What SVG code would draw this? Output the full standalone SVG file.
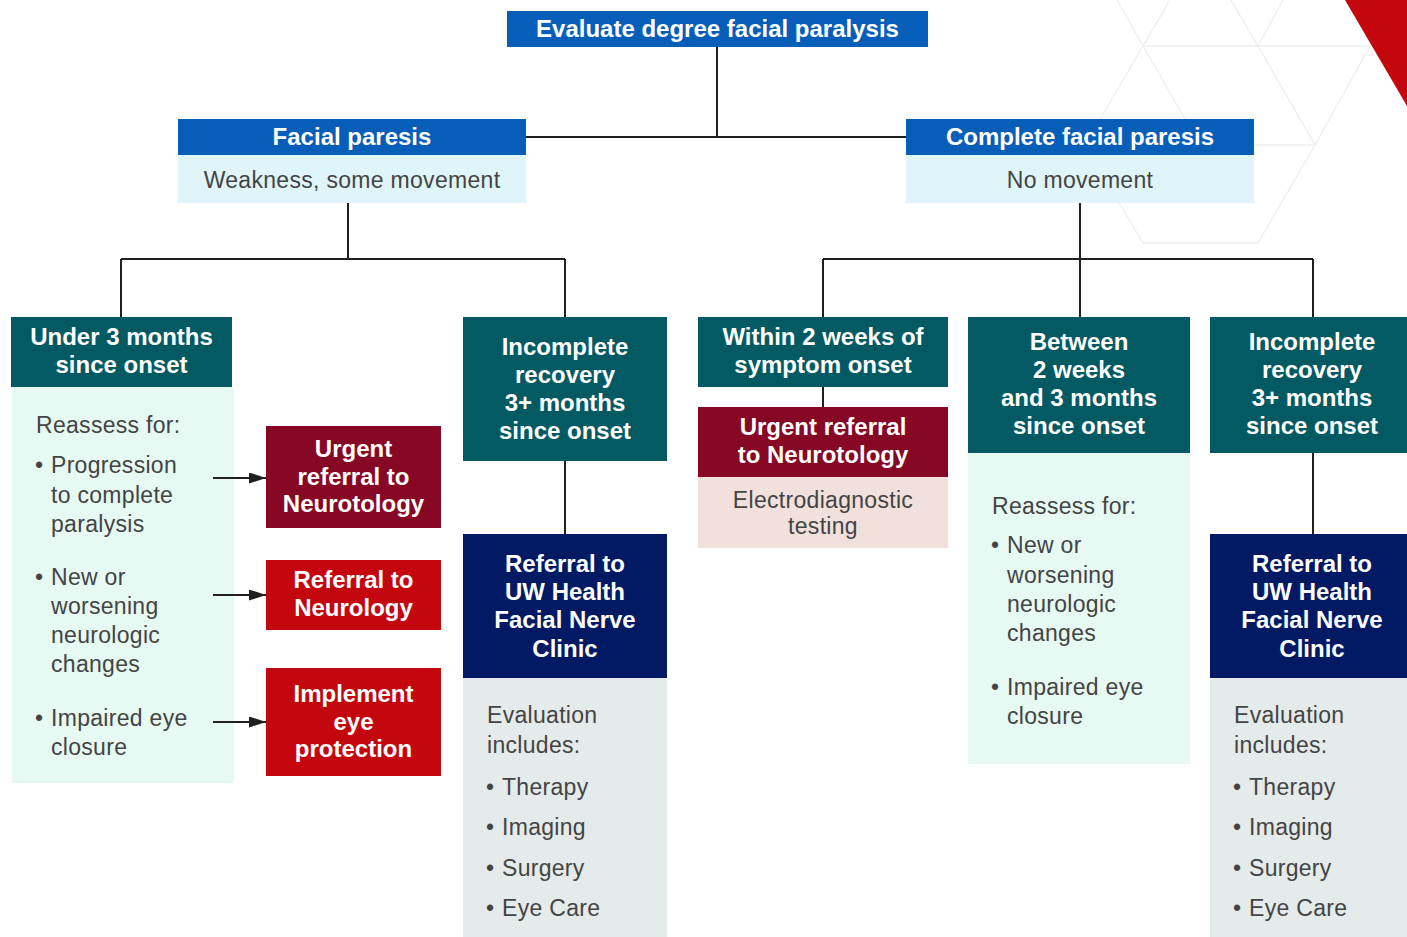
<svg xmlns="http://www.w3.org/2000/svg" width="1407" height="937" viewBox="0 0 1407 937">
<style>
.hb{font-family:"Liberation Sans",Arial,sans-serif;font-weight:bold;font-size:24px;fill:#fff;text-anchor:middle}
.bt{font-family:"Liberation Sans",Arial,sans-serif;font-size:23px;letter-spacing:0.3px;fill:#444}
.c{text-anchor:middle}
.ln{stroke:#231f20;stroke-width:2;fill:none}
.hex{stroke:#eeeeee;stroke-width:1.3;fill:none}
.blue{fill:#075eb9}.lcyan{fill:#e0f5f9}.teal{fill:#045a63}.mint{fill:#e6f9f3}
.navy{fill:#021a63}.gray{fill:#e5eaea}.dred{fill:#870824}.red{fill:#c4060e}.pink{fill:#f2e0dd}
</style>
<defs>
<marker id="ah" markerUnits="userSpaceOnUse" markerWidth="17" markerHeight="11" refX="17" refY="5.5" orient="auto">
<path d="M0,0 L17,5.5 L0,11 z" fill="#231f20"/>
</marker>
</defs>
<rect width="1407" height="937" fill="#fff"/>
<g id="background">
<path class="hex" d="M1143,46 L1370,46 M1200,145 L1315,145 M1143,243 L1258,243 M1117,0 L1143,46 M1170,0 L1143,46 M1143,46 L1085,145 M1143,46 L1200,145 M1231,0 L1258,46 M1283,0 L1258,46 M1258,46 L1315,145 M1370,46 L1315,145 M1370,46 L1397,0 M1315,145 L1258,243 M1085,145 L1143,243"/>
<polygon points="1345,0 1407,0 1407,106" fill="#c4060e"/>
</g>
<g id="n-evaluate">
<rect class="blue" x="507" y="11" width="421" height="36"/>
<text class="hb" x="717.5" y="37">Evaluate degree facial paralysis</text>
</g>
<g id="n-facial-paresis">
<rect class="blue" x="178" y="119" width="348" height="36"/>
<rect class="lcyan" x="178" y="155" width="348" height="48"/>
<text class="hb" x="352" y="145">Facial paresis</text>
<text class="bt c" x="352" y="188">Weakness, some movement</text>
</g>
<g id="n-complete">
<rect class="blue" x="906" y="119" width="348" height="36"/>
<rect class="lcyan" x="906" y="155" width="348" height="48"/>
<text class="hb" x="1080" y="145">Complete facial paresis</text>
<text class="bt c" x="1080" y="188">No movement</text>
</g>
<g id="n-under3">
<rect class="teal" x="11" y="317" width="221" height="70"/>
<rect class="mint" x="12" y="387" width="222" height="396"/>
<text class="hb" x="121.5" y="345">Under 3 months</text>
<text class="hb" x="121.5" y="373">since onset</text>
<text class="bt" x="36" y="433">Reassess for:</text>
<text class="bt" x="35" y="473">•</text><text class="bt" x="51" y="473">Progression</text>
<text class="bt" x="51" y="503">to complete</text>
<text class="bt" x="51" y="532">paralysis</text>
<text class="bt" x="35" y="585">•</text><text class="bt" x="51" y="585">New or</text>
<text class="bt" x="51" y="614">worsening</text>
<text class="bt" x="51" y="643">neurologic</text>
<text class="bt" x="51" y="672">changes</text>
<text class="bt" x="35" y="726">•</text><text class="bt" x="51" y="726">Impaired eye</text>
<text class="bt" x="51" y="755">closure</text>
</g>
<g id="n-urgent-left">
<rect class="dred" x="266" y="426" width="175" height="102"/>
<text class="hb" x="353.5" y="457">Urgent</text>
<text class="hb" x="353.5" y="485">referral to</text>
<text class="hb" x="353.5" y="512">Neurotology</text>
</g>
<g id="n-neurology">
<rect class="red" x="266" y="560" width="175" height="70"/>
<text class="hb" x="353.5" y="588">Referral to</text>
<text class="hb" x="353.5" y="616">Neurology</text>
</g>
<g id="n-eye">
<rect class="red" x="266" y="668" width="175" height="108"/>
<text class="hb" x="353.5" y="702">Implement</text>
<text class="hb" x="353.5" y="730">eye</text>
<text class="hb" x="353.5" y="757">protection</text>
</g>
<g id="n-incomplete-left">
<rect class="teal" x="463" y="317" width="204" height="144"/>
<text class="hb" x="565" y="355">Incomplete</text>
<text class="hb" x="565" y="383">recovery</text>
<text class="hb" x="565" y="411">3+ months</text>
<text class="hb" x="565" y="439">since onset</text>
</g>
<g id="n-clinic-left">
<rect class="navy" x="463" y="534" width="204" height="144"/>
<rect class="gray" x="463" y="678" width="204" height="259"/>
<text class="hb" x="565" y="572">Referral to</text>
<text class="hb" x="565" y="600">UW Health</text>
<text class="hb" x="565" y="628">Facial Nerve</text>
<text class="hb" x="565" y="657">Clinic</text>
<text class="bt" x="487" y="723">Evaluation</text>
<text class="bt" x="487" y="753">includes:</text>
<text class="bt" x="486" y="795">•</text><text class="bt" x="502" y="795">Therapy</text>
<text class="bt" x="486" y="835">•</text><text class="bt" x="502" y="835">Imaging</text>
<text class="bt" x="486" y="876">•</text><text class="bt" x="502" y="876">Surgery</text>
<text class="bt" x="486" y="916">•</text><text class="bt" x="502" y="916">Eye Care</text>
</g>
<g id="n-within2">
<rect class="teal" x="698" y="317" width="250" height="70"/>
<text class="hb" x="823" y="345">Within 2 weeks of</text>
<text class="hb" x="823" y="373">symptom onset</text>
</g>
<g id="n-urgent-right">
<rect class="dred" x="698" y="407" width="250" height="70"/>
<rect class="pink" x="698" y="477" width="250" height="71"/>
<text class="hb" x="823" y="435">Urgent referral</text>
<text class="hb" x="823" y="463">to Neurotology</text>
<text class="bt c" x="823" y="508">Electrodiagnostic</text>
<text class="bt c" x="823" y="534">testing</text>
</g>
<g id="n-between">
<rect class="teal" x="968" y="317" width="222" height="136"/>
<rect class="mint" x="968" y="453" width="222" height="311"/>
<text class="hb" x="1079" y="350">Between</text>
<text class="hb" x="1079" y="378">2 weeks</text>
<text class="hb" x="1079" y="406">and 3 months</text>
<text class="hb" x="1079" y="434">since onset</text>
<text class="bt" x="992" y="514">Reassess for:</text>
<text class="bt" x="991" y="553">•</text><text class="bt" x="1007" y="553">New or</text>
<text class="bt" x="1007" y="583">worsening</text>
<text class="bt" x="1007" y="612">neurologic</text>
<text class="bt" x="1007" y="641">changes</text>
<text class="bt" x="991" y="695">•</text><text class="bt" x="1007" y="695">Impaired eye</text>
<text class="bt" x="1007" y="724">closure</text>
</g>
<g id="n-incomplete-right">
<rect class="teal" x="1210" y="317" width="197" height="136"/>
<text class="hb" x="1312" y="350">Incomplete</text>
<text class="hb" x="1312" y="378">recovery</text>
<text class="hb" x="1312" y="406">3+ months</text>
<text class="hb" x="1312" y="434">since onset</text>
</g>
<g id="n-clinic-right">
<rect class="navy" x="1210" y="534" width="197" height="144"/>
<rect class="gray" x="1210" y="678" width="197" height="259"/>
<text class="hb" x="1312" y="572">Referral to</text>
<text class="hb" x="1312" y="600">UW Health</text>
<text class="hb" x="1312" y="628">Facial Nerve</text>
<text class="hb" x="1312" y="657">Clinic</text>
<text class="bt" x="1234" y="723">Evaluation</text>
<text class="bt" x="1234" y="753">includes:</text>
<text class="bt" x="1233" y="795">•</text><text class="bt" x="1249" y="795">Therapy</text>
<text class="bt" x="1233" y="835">•</text><text class="bt" x="1249" y="835">Imaging</text>
<text class="bt" x="1233" y="876">•</text><text class="bt" x="1249" y="876">Surgery</text>
<text class="bt" x="1233" y="916">•</text><text class="bt" x="1249" y="916">Eye Care</text>
</g>
<g id="connectors">
<path class="ln" d="M717,47 V137 M526,137 H906 M348,203 V259 M121,259 H565 M121,259 V317 M565,259 V317 M1080,203 V317 M823,259 H1313 M823,259 V317 M1313,259 V317 M565,461 V534 M823,387 V407 M1313,453 V534"/>
<line class="ln" x1="213" y1="478" x2="266" y2="478" marker-end="url(#ah)"/>
<line class="ln" x1="213" y1="595" x2="266" y2="595" marker-end="url(#ah)"/>
<line class="ln" x1="213" y1="722" x2="266" y2="722" marker-end="url(#ah)"/>
</g>
</svg>
